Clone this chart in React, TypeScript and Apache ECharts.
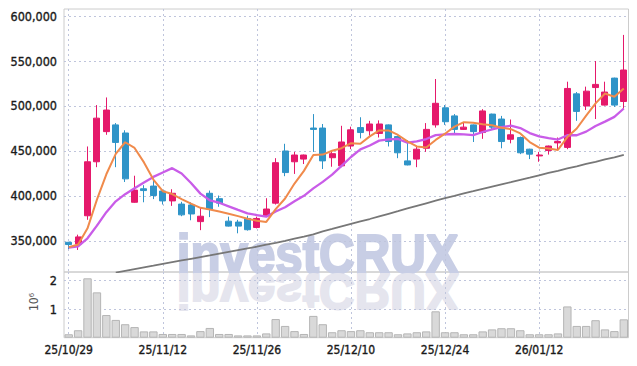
import React, { useEffect, useRef } from "react";
import * as echarts from "echarts";

const dates = [
  "25/10/29","25/10/30","25/10/31","25/11/03","25/11/04","25/11/05","25/11/06","25/11/07","25/11/10","25/11/11",
  "25/11/12","25/11/13","25/11/14","25/11/17","25/11/18","25/11/19","25/11/20","25/11/21","25/11/24","25/11/25",
  "25/11/26","25/11/27","25/11/28","25/12/01","25/12/02","25/12/03","25/12/04","25/12/05","25/12/08","25/12/09",
  "25/12/10","25/12/11","25/12/12","25/12/15","25/12/16","25/12/17","25/12/18","25/12/19","25/12/22","25/12/23",
  "25/12/24","25/12/26","25/12/29","25/12/30","26/01/02","26/01/05","26/01/06","26/01/07","26/01/08","26/01/09",
  "26/01/12","26/01/13","26/01/14","26/01/15","26/01/16","26/01/19","26/01/20","26/01/21","26/01/22","26/01/23",
];

const opens = [
  348500,346500,378000,438000,471500,479000,470000,393000,408000,411000,
  405500,394500,391000,390000,371500,403000,397000,372000,371000,375000,
  365000,378000,392000,450000,438000,441000,475500,475500,442500,433500,
  455500,476000,472500,469500,479000,466000,439000,441000,453000,479000,
  498000,489000,474000,479000,470500,491000,485500,463000,465000,452000,
  444500,450500,459000,454000,513500,500000,520500,501000,531000,505000,
];
const closes = [
  346000,354500,438000,486500,495500,459500,419000,406500,406000,400500,
  394500,403000,379000,380000,377500,385500,392000,366500,366500,362500,
  375000,385500,437000,426000,445500,445500,474000,439000,447000,460000,
  473500,470500,480000,480000,460500,448000,434500,452000,474000,503000,
  482500,474000,476500,471500,494500,476500,460500,468000,448000,446500,
  445500,455500,460500,519500,494000,516500,524000,515500,501000,540000,
];
const highs = [
  349000,357000,455000,501000,509500,481000,473000,422500,412000,418000,
  407000,407500,393500,393000,387000,406000,400500,377000,373500,378000,
  377000,397500,442000,458000,449000,446000,491000,480000,450500,478000,
  477000,487500,483500,484000,479500,467000,462000,455500,481000,530000,
  501000,491000,481500,479500,496500,491500,489000,485000,466000,452500,
  449000,456000,465000,527000,515500,521500,550000,527000,531500,579000,
];
const lows = [
  341000,340000,373500,432000,468000,432000,415500,392500,393000,396500,
  390500,389000,377500,373000,362000,376500,388000,366000,358500,361500,
  364000,377000,390500,422000,424500,435500,449000,430000,432500,432000,
  452000,464000,467000,465000,455000,442000,434000,432000,449000,476000,
  479000,469000,473500,460000,463500,473500,453000,458500,446500,441000,
  438000,446000,452000,452000,483500,495500,485500,500500,499000,497000,
];
const volumes = [
  120000,260000,2070000,1580000,790000,620000,470000,370000,220000,220000,
  130000,130000,130000,80000,230000,340000,130000,130000,80000,80000,
  80000,150000,650000,410000,230000,130000,760000,470000,190000,260000,
  230000,260000,190000,190000,190000,120000,150000,190000,220000,920000,
  190000,190000,120000,120000,220000,290000,330000,330000,260000,120000,
  120000,120000,150000,1090000,410000,410000,610000,290000,230000,640000,
];
const ma5 = [
  343000,346000,364000,396000,424100,446800,459700,453400,437300,418300,
  405300,402100,396600,391400,386800,385000,382800,380300,377600,374600,
  372500,371200,385300,397200,413800,427900,445600,446000,450200,453100,
  458700,458000,466200,472800,472900,467800,460600,455000,453800,462300,
  469200,477100,482000,481500,479800,478600,475900,474200,469500,459900,
  453700,452700,451200,465500,475000,489200,502900,513900,510200,519400,
];
const ma10 = [
  342500,344000,353000,367000,382000,394000,402000,408500,415000,421200,
  426100,430900,425000,414400,402600,395200,392500,388500,384500,380700,
  378800,377000,382800,387400,394200,400200,408400,415700,423700,433500,
  443300,451800,456100,461500,463000,463300,459300,460600,463300,467600,
  468500,468900,468500,467700,471100,473900,476500,478100,475500,469900,
  466200,464300,462700,467500,467500,471500,477800,482600,487900,497200,
];
const ma60 = [
  null,null,null,null,null,314900,316800,318700,320600,322500,
  324500,326400,328300,330200,332100,334000,336000,337900,339800,341700,
  343600,345800,347900,350200,352600,354900,357400,360600,363300,366100,
  368900,371700,374400,377300,380200,383100,386100,389000,391900,394800,
  397500,400100,402800,405300,407900,410400,412900,415400,418000,420400,
  423000,425600,428000,430600,433000,435600,438000,440600,443000,445600,
];
const priceTicks = [350000, 400000, 450000, 500000, 550000, 600000];
const volumeTicks = [1000000, 2000000];

const UP = "#e5196b";
const DOWN = "#2f94c8";
const FONT = "DejaVu Sans Condensed";
const gridLine = { color: "#bfc5dc", type: [2, 3] as any, width: 1 };
const labelStyle = { fontSize: 12.5, color: "#1a1a1a", fontFamily: FONT, textBorderColor: "#1a1a1a", textBorderWidth: 0.35 };

function fmtThousands(v: number) {
  return String(Math.round(v)).replace(/\B(?=(\d{3})+(?!\d))/g, ",");
}

export default function App() {
  const ref = useRef<HTMLDivElement>(null);
  useEffect(() => {
    if (!ref.current) return;
    const chart = echarts.init(ref.current, null, { renderer: "svg" });
    const candleData = dates.map((_, i) => [opens[i], closes[i], lows[i], highs[i]]);
    const option: any = {
      animation: false,
      backgroundColor: "#ffffff",
      grid: [
        { left: 64, right: 8.5, top: 9, height: 263, show: true, borderColor: "#cccccc", borderWidth: 1 },
        { left: 64, right: 8.5, top: 272, height: 65.7, show: true, borderColor: "#cccccc", borderWidth: 1 },
      ],
      xAxis: [
        {
          type: "category", gridIndex: 0, data: dates, boundaryGap: true,
          axisLine: { show: false }, axisTick: { show: false, interval: 9, alignWithLabel: true },
          axisLabel: { show: false, interval: 9 },
          splitLine: { show: true, interval: 9, alignWithLabel: true, lineStyle: gridLine },
        },
        {
          type: "category", gridIndex: 1, data: dates, boundaryGap: true,
          axisLine: { show: false }, axisTick: { show: false, interval: 9, alignWithLabel: true },
          axisLabel: { interval: 9, margin: 6, ...labelStyle, fontSize: 12 },
          splitLine: { show: true, interval: 9, alignWithLabel: true, lineStyle: gridLine },
        },
      ],
      yAxis: [
        {
          type: "value", gridIndex: 0, min: 315500, max: 607800, scale: true,
          axisLine: { show: false },
          axisTick: { show: false, customValues: priceTicks },
          axisLabel: { customValues: priceTicks, formatter: (v: number) => fmtThousands(v), margin: 7, ...labelStyle },
          splitLine: { show: true, lineStyle: gridLine },
        },
        {
          type: "value", gridIndex: 1, min: 0, max: 2290000,
          axisLine: { show: false },
          axisTick: { show: false, customValues: volumeTicks },
          axisLabel: { customValues: volumeTicks, formatter: (v: number) => String(v / 1000000), margin: 7, ...labelStyle },
          splitLine: { show: true, lineStyle: gridLine },
        },
      ],
      graphic: [
        {
          type: "text", x: 176.7, y: 273, scaleX: 0.88, scaleY: 1, z: 0,
          style: { text: "investCRUX", x: 0, y: -19.4, font: 'bold 56px "Liberation Sans"', fill: "#c8cee5", stroke: "#c8cee5", lineWidth: 2.2, textAlign: "left", textVerticalAlign: "middle", align: "left", verticalAlign: "middle" },
        },
        {
          type: "text", x: 176.7, y: 274, scaleX: 0.88, scaleY: -0.88, z: 0,
          style: { text: "investCRUX", x: 0, y: -19.4, font: 'bold 56px "Liberation Sans"', fill: "#e5e5ee", stroke: "#e5e5ee", lineWidth: 2.2, textAlign: "left", textVerticalAlign: "middle", align: "left", verticalAlign: "middle" },
        },
        {
          type: "text", x: 34, y: 302, rotation: Math.PI / 2, z: 10,
          style: { text: "10\u2076", x: 0, y: 0, font: '12px "DejaVu Sans Condensed"', fill: "#555", textAlign: "center", textVerticalAlign: "middle", align: "center", verticalAlign: "middle" },
        },
      ],
      series: [
        {
          type: "candlestick", xAxisIndex: 0, yAxisIndex: 0, data: candleData, barWidth: 6.5,
          itemStyle: { color: UP, color0: DOWN, borderColor: UP, borderColor0: DOWN, borderWidth: 1 },
          z: 3,
        },
        {
          type: "line", xAxisIndex: 0, yAxisIndex: 0, data: ma60, showSymbol: false, symbol: "none",
          lineStyle: { color: "#777777", width: 1.8 }, z: 4, clip: true,
        },
        {
          type: "line", xAxisIndex: 0, yAxisIndex: 0, data: ma10, showSymbol: false, symbol: "none",
          lineStyle: { color: "#c95ce8", width: 2.3 }, z: 4,
        },
        {
          type: "line", xAxisIndex: 0, yAxisIndex: 0, data: ma5, showSymbol: false, symbol: "none",
          lineStyle: { color: "#f08a4b", width: 2 }, z: 5,
        },
        {
          type: "bar", xAxisIndex: 1, yAxisIndex: 1, data: volumes, barWidth: 8.4,
          itemStyle: { color: "#d9d9d9", borderColor: "#b5b5b5", borderWidth: 1 },
          z: 3,
        },
      ],
    };
    chart.setOption(option);
    return () => chart.dispose();
  }, []);
  return <div ref={ref} style={{ position: "fixed", left: 0, top: 0, width: 637, height: 366 }} />;
}
